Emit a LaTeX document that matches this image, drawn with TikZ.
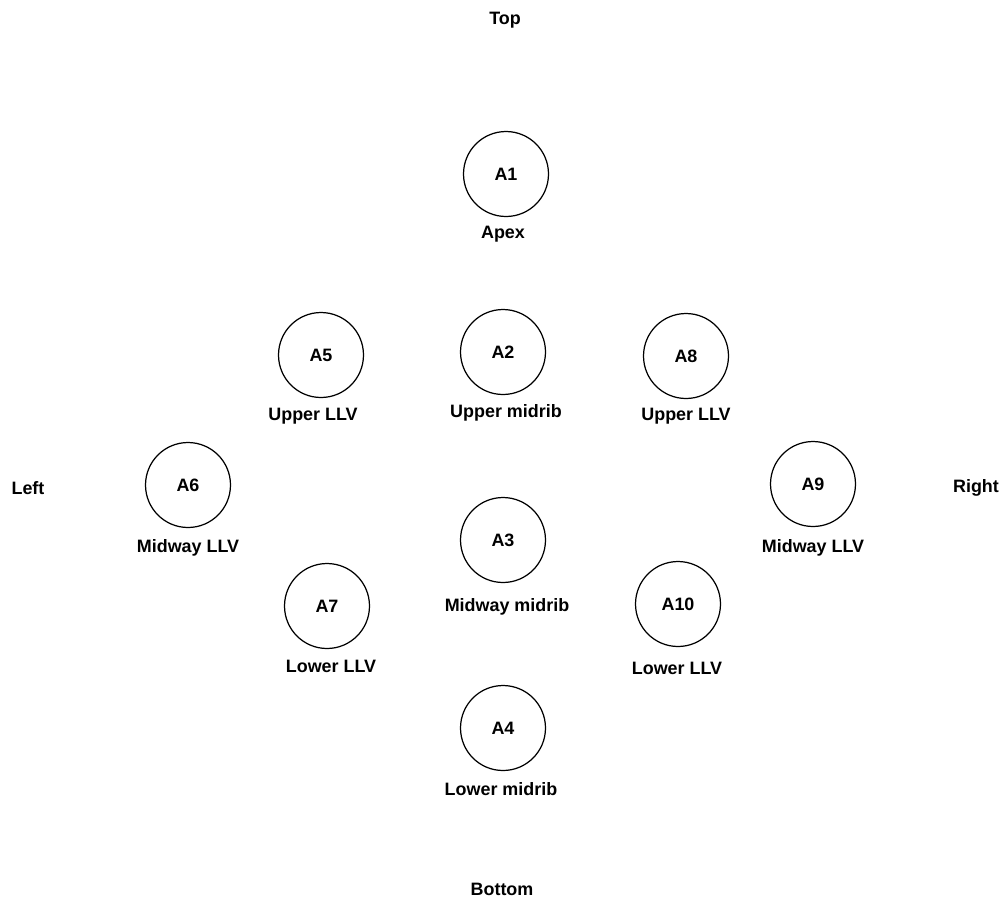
\documentclass[tikz,border=0pt]{standalone}
\usepackage{fontspec}
\setmainfont{Liberation Sans}
\begin{document}
\begin{tikzpicture}[x=0.02cm, y=-0.02cm,
    font=\fontsize{10.2}{12}\selectfont\bfseries,
    spot/.style={draw, circle, line width=0.7pt, minimum size=1.7cm, inner sep=0pt},
    tag/.style={inner sep=1pt, yshift=-0.04cm}]
    \useasboundingbox (0,0) rectangle (1004,900);

    % Sides
    \node[tag] (top) at (505,18) {Top};
    \node[tag] (bottom) at (502,887) {Bottom};
    \node[tag] (left) at (28,486) {Left};
    \node[tag] (right) at (976,486) {Right};

    % Midrib
    \node[spot] (a1) at (506,174) {A1};
    \node[spot] (a2) at (503,352) {A2};
    \node[spot] (a3) at (503,540) {A3};
    \node[spot] (a4) at (503,728) {A4};

    % Left lateral veins
    \node[spot] (a5) at (321,355) {A5};
    \node[spot] (a6) at (188,485) {A6};
    \node[spot] (a7) at (327,606) {A7};

    % Right lateral veins
    \node[spot] (a8) at (686,356) {A8};
    \node[spot] (a9) at (813,484) {A9};
    \node[spot] (a10) at (678,604) {A10};

    % Labels
    \node[tag] (l1) at (503,232) {Apex};
    \node[tag] (l2) at (506,411) {Upper midrib};
    \node[tag] (l3) at (507,605) {Midway midrib};
    \node[tag] (l4) at (501,787) {Lower midrib};
    \node[tag] (l5) at (313,414) {Upper LLV};
    \node[tag] (l6) at (188,546) {Midway LLV};
    \node[tag] (l7) at (331,664) {Lower LLV};
    \node[tag] (l8) at (686,414) {Upper LLV};
    \node[tag] (l9) at (813,546) {Midway LLV};
    \node[tag] (l10) at (677,666) {Lower LLV};
\end{tikzpicture}
\end{document}
